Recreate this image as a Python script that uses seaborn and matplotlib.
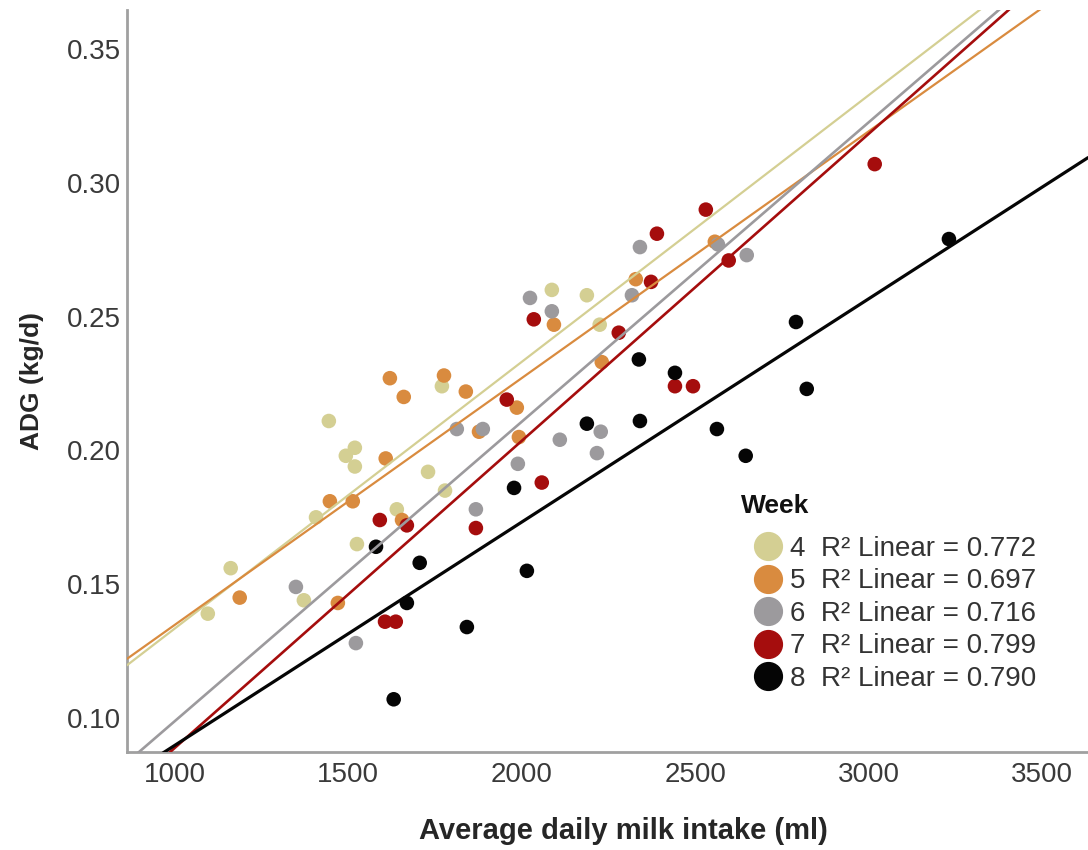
import numpy as np
import pandas as pd
import matplotlib
matplotlib.use("Agg")
import matplotlib.pyplot as plt
from matplotlib.lines import Line2D
import seaborn as sns

# ---------------- data ----------------
weeks = [4, 5, 6, 7, 8]
r2_labels = ["0.772", "0.697", "0.716", "0.799", "0.790"]
colors = ["#d4cf93", "#d98b3f", "#9c9a9d", "#a50d0d", "#050505"]
line_widths = [1.6, 1.6, 1.9, 1.9, 2.3]

w4_x = [1444, 1770, 1519, 1493, 1519, 1730, 1640, 1779, 1407, 1525, 1161, 1372, 1095, 2087, 2188, 2225]
w4_y = [0.211, 0.224, 0.201, 0.198, 0.194, 0.192, 0.178, 0.185, 0.175, 0.165, 0.156, 0.144, 0.139, 0.260, 0.258, 0.247]

w5_x = [1620, 1776, 1660, 1839, 1608, 1447, 1513, 1187, 1470, 1877, 1986, 1992, 2093, 2329, 2231, 2557, 1655]
w5_y = [0.227, 0.228, 0.220, 0.222, 0.197, 0.181, 0.181, 0.145, 0.143, 0.207, 0.216, 0.205, 0.247, 0.264, 0.233, 0.278, 0.174]

w6_x = [1813, 1888, 1349, 1522, 2110, 2228, 2217, 1989, 1868, 2024, 2087, 2318, 2341, 2649, 2566]
w6_y = [0.208, 0.208, 0.149, 0.128, 0.204, 0.207, 0.199, 0.195, 0.178, 0.257, 0.252, 0.258, 0.276, 0.273, 0.277]

w7_x = [1591, 1669, 1606, 1637, 1868, 1957, 2058, 2035, 2373, 2280, 2442, 2494, 2531, 2390, 2597, 3018]
w7_y = [0.174, 0.172, 0.136, 0.136, 0.171, 0.219, 0.188, 0.249, 0.263, 0.244, 0.224, 0.224, 0.290, 0.281, 0.271, 0.307]

w8_x = [1580, 1706, 1669, 1631, 1842, 1978, 2015, 2188, 2341, 2563, 2338, 2442, 2646, 2791, 2822, 3232]
w8_y = [0.164, 0.158, 0.143, 0.107, 0.134, 0.186, 0.155, 0.210, 0.211, 0.208, 0.234, 0.229, 0.198, 0.248, 0.223, 0.279]

x_ticks = [1000, 1500, 2000, 2500, 3000, 3500]
y_ticks = [0.10, 0.15, 0.20, 0.25, 0.30, 0.35]
x_label = "Average daily milk intake (ml)"
y_label = "ADG (kg/d)"
legend_title = "Week"

series_x = [w4_x, w5_x, w6_x, w7_x, w8_x]
series_y = [w4_y, w5_y, w6_y, w7_y, w8_y]

frames = []
for wk, xs, ys in zip(weeks, series_x, series_y):
    frames.append(pd.DataFrame({"milk": xs, "adg": ys, "week": wk}))
df = pd.concat(frames, ignore_index=True)

# ---------------- style ----------------
sns.set_theme(style="white")
plt.rcParams["font.family"] = ["Liberation Sans", "DejaVu Sans"]

fig = plt.figure(figsize=(10.88, 8.5), dpi=100)
ax = fig.add_axes([127 / 1088, 1 - 752 / 850, 1 - 127 / 1088, (752 - 10) / 850])

xlim = (862, 3633)
ylim = (0.0873, 0.3646)
ax.set_xlim(*xlim)
ax.set_ylim(*ylim)

palette = dict(zip(weeks, colors))
sns.scatterplot(data=df, x="milk", y="adg", hue="week", palette=palette,
                s=110, edgecolor="none", linewidth=0, legend=False, ax=ax, zorder=2)

for wk, col, lw in zip(weeks, colors, line_widths):
    sub = df[df["week"] == wk]
    ax.set_xlim(*xlim)
    sns.regplot(data=sub, x="milk", y="adg", scatter=False, ci=None,
                truncate=False, color=col, line_kws={"lw": lw, "zorder": 3}, ax=ax)

ax.set_xlim(*xlim)
ax.set_ylim(*ylim)
ax.set_xticks(x_ticks)
ax.set_yticks(y_ticks)
ax.set_yticklabels([f"{v:.2f}" for v in y_ticks])
ax.tick_params(axis="both", length=0, labelsize=20, labelcolor="#3a3a3a")
ax.tick_params(axis="x", pad=7)
ax.tick_params(axis="y", pad=4.5)

for side in ["top", "right"]:
    ax.spines[side].set_visible(False)
for side in ["left", "bottom"]:
    ax.spines[side].set_color("#a0a0a0")
    ax.spines[side].set_linewidth(2)

ax.set_xlabel(x_label, fontsize=21, fontweight="bold", labelpad=21)
ax.xaxis.label.set_x(0.517)
ax.set_ylabel(y_label, fontsize=19, fontweight="bold", labelpad=16)

handles = [Line2D([0], [0], marker="o", linestyle="none", markersize=20,
                  markerfacecolor=c, markeredgecolor=c) for c in colors]
labels = [f"{wk}  R\u00b2 Linear = {r}" for wk, r in zip(weeks, r2_labels)]
leg = ax.legend(handles, labels, loc="upper left",
                bbox_to_anchor=(0.635, 0.310), frameon=False, fontsize=20,
                handletextpad=0.2, labelspacing=0.235, borderpad=0, handlelength=1.2)
for t in leg.get_texts():
    t.set_color("#333333")
fig.text(741 / 1088, 1 - 506 / 850, legend_title, ha="left", va="center",
         fontsize=19, fontweight="bold", color="#111111")

fig.savefig("out.png", dpi=100)
